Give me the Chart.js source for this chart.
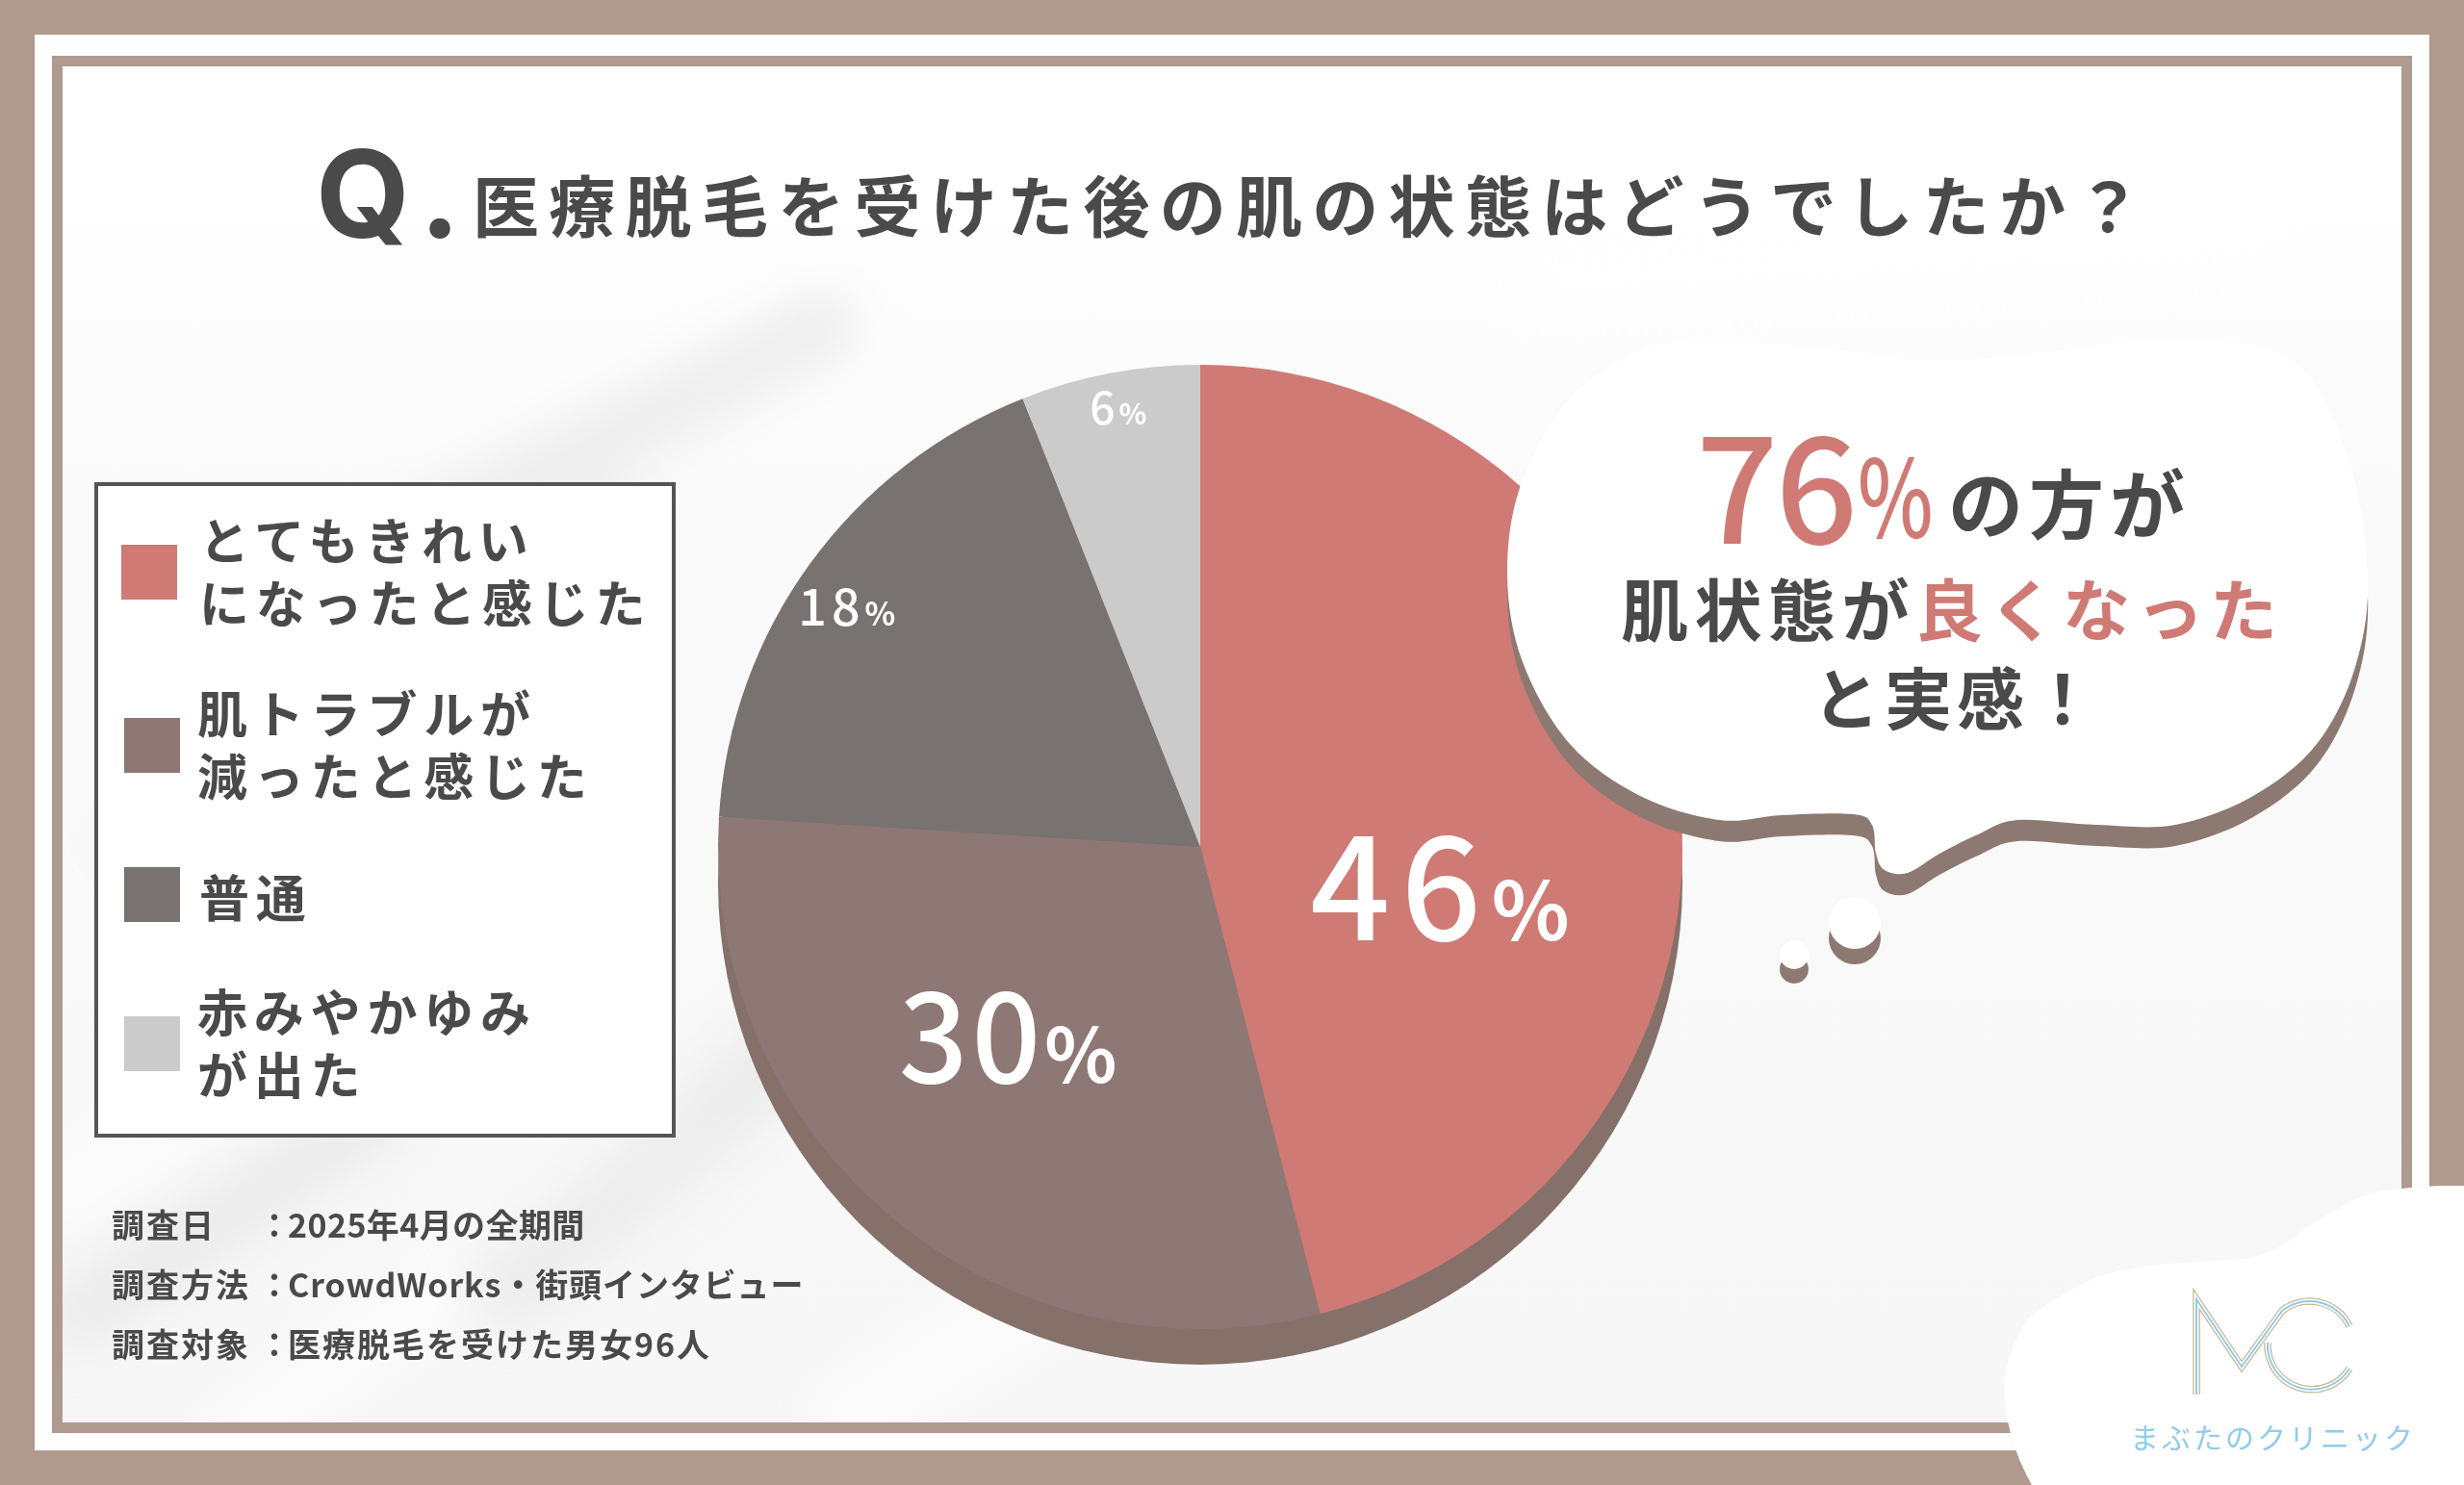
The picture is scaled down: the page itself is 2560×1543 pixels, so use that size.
<!DOCTYPE html>
<html lang="ja">
<head>
<meta charset="utf-8">
<title>医療脱毛を受けた後の肌の状態</title>
<script src="https://cdn.jsdelivr.net/npm/chart.js@4"></script>
<style>
  html, body { margin: 0; padding: 0; }
  body { position: relative; width: 2560px; height: 1543px; overflow: hidden; background: #b09a8f;
         font-family: "Noto Sans CJK JP", "Noto Sans", sans-serif; color: #4a4a4a; }
  body * { position: absolute; }
  #paper { left: 36px; top: 36px; width: 2488px; height: 1471px; background: #fdfdfd; }
  #inner { left: 54px; top: 58px; width: 2430px; height: 1409px; border: 11px solid #b09a8f; overflow: hidden;
           background: linear-gradient(to bottom, #fff 0, #fff 130px, #fafafa 420px, #f7f7f7 100%); }
  .smudge { filter: blur(24px); opacity: .7; }
  canvas { left: 0; top: 0; }
  svg { left: 0; top: 0; }
  .t { white-space: nowrap; line-height: 1; }
  #q { left: 328px; top: 138px; font-family: Inter, sans-serif; font-size: 126px; font-weight: 700; }
  #dot { left: 436px; top: 138px; font-family: Inter, sans-serif; font-size: 126px; font-weight: 700; }
  #title { left: 491px; top: 177px; font-size: 69px; font-weight: 700; letter-spacing: 10.3px; }
  #legend { left: 98px; top: 501px; width: 596px; height: 673px; border: 4px solid #555; background: #fff; }
  .swatch { width: 58px; height: 57px; }
  .label { font-size: 52px; font-weight: 700; letter-spacing: 6.8px; line-height: 65px; white-space: nowrap; }
  .foot { font-size: 34px; font-weight: 700; white-space: nowrap; line-height: 1; }
  #c1 { color: #cf7a74; left: 1762px; top: 425px; font-size: 150px; font-weight: 500; letter-spacing: -3px; }
  #c1 small { position: absolute; left: 168px; top: 30px; font-size: 110px; font-weight: 500;
              transform: scaleX(.76); transform-origin: left center; letter-spacing: 0; }
  #c2 { left: 2024px; top: 481px; font-size: 78px; font-weight: 700; letter-spacing: 6px; }
  #c3 { left: 1684px; top: 596px; font-size: 70px; font-weight: 700; letter-spacing: 6.5px; }
  #c3 span { position: static; color: #cf7a74; }
  #c4 { left: 1883px; top: 688px; font-size: 70px; font-weight: 700; letter-spacing: 5px; }
  #brand { left: 2213px; top: 1477px; font-size: 30px; letter-spacing: 3px; color: #8fcdea; }
</style>
</head>
<body>
<div id="paper"></div>
<div id="inner"></div>
<canvas id="pie" width="2560" height="1543"></canvas>
<svg id="shapes" width="2560" height="1543" xmlns="http://www.w3.org/2000/svg"></svg>

<div class="t" id="q">Q</div>
<div class="t" id="dot">.</div>
<div class="t" id="title">医療脱毛を受けた後の肌の状態はどうでしたか？</div>

<div id="legend"></div>

<div class="t" id="c1">76<small>%</small></div>
<div class="t" id="c2">の方が</div>
<div class="t" id="c3">肌状態が<span>良くなった</span></div>
<div class="t" id="c4">と実感！</div>

<div class="t" id="brand">まぶたのクリニック</div>

<script>
'use strict';

const categories = [
  ['とてもきれい', 'になったと感じた'],
  ['肌トラブルが', '減ったと感じた'],
  ['普通'],
  ['赤みやかゆみ', 'が出た']
];
const shareValues = [46, 30, 18, 6];
const sliceColors = ['#cf7a74', '#8d7875', '#787270', '#cbcbcb'];

const surveyLabels = ['調査日', '調査方法', '調査対象'];
const surveyValues = ['2025年4月の全期間', 'CrowdWorks・街頭インタビュー', '医療脱毛を受けた男女96人'];

// label anchor (fraction of radius from centre), number size, % size, spacing
const labelStyles = [
  { fx:  .508, fy:  .088, num: 146, pct: 84, gap: 11 },
  { fx: -.395, fy:  .398, num: 126, pct: 78, gap: 4 },
  { fx: -.728, fy: -.496, num: 52,  pct: 33, gap: 5 },
  { fx: -.166, fy: -.910, num: 46,  pct: 30, gap: 4 }
];

// pie edge thickness drawn under the slices
const pieDepth = {
  id: 'pieDepth',
  beforeDatasetsDraw(chart) {
    const arc = chart.getDatasetMeta(0).data[0];
    const { ctx } = chart;
    ctx.save();
    ctx.fillStyle = '#85716a';
    ctx.beginPath();
    ctx.arc(arc.x, arc.y + 37, arc.outerRadius, 0, Math.PI * 2);
    ctx.fill();
    ctx.restore();
  }
};

const pieLabels = {
  id: 'pieLabels',
  afterDatasetsDraw(chart) {
    const { ctx } = chart;
    const family = '"Noto Sans CJK JP", sans-serif';
    chart.getDatasetMeta(0).data.forEach((arc, i) => {
      const s = labelStyles[i];
      const num = String(shareValues[i]);
      ctx.save();
      ctx.fillStyle = '#fff';
      ctx.textBaseline = 'alphabetic';
      ctx.textAlign = 'left';
      ctx.letterSpacing = s.gap + 'px';
      ctx.font = `500 ${s.num}px ${family}`;
      const numW = ctx.measureText(num).width;
      ctx.font = `700 ${s.pct}px ${family}`;
      const pctW = ctx.measureText('%').width;
      const x = arc.x + s.fx * arc.outerRadius - (numW + pctW) / 2;
      const y = arc.y + s.fy * arc.outerRadius + s.num * 0.365;
      ctx.font = `500 ${s.num}px ${family}`;
      ctx.fillText(num, x, y);
      ctx.font = `700 ${s.pct}px ${family}`;
      ctx.fillText('%', x + numW, y);
      ctx.restore();
    });
  }
};

new Chart(document.getElementById('pie'), {
  type: 'pie',
  data: {
    labels: categories,
    datasets: [{ data: shareValues, backgroundColor: sliceColors, borderWidth: 0 }]
  },
  options: {
    responsive: false,
    animation: false,
    devicePixelRatio: 1,
    layout: { padding: { left: 746, right: 812, top: 379, bottom: 162 } },
    plugins: { legend: { display: false }, tooltip: { enabled: false } }
  },
  plugins: [pieDepth, pieLabels]
});

// legend box
const legend = document.getElementById('legend');
const swatchPos = [[24, 61], [27, 241], [27, 396], [27, 551]];
const textPos = [[105, 22], [103, 202], [105, 393], [103, 512]];
categories.forEach((lines, i) => {
  const sw = document.createElement('div');
  sw.className = 'swatch';
  sw.style.cssText = `left:${swatchPos[i][0]}px;top:${swatchPos[i][1]}px;background:${sliceColors[i]}`;
  legend.appendChild(sw);
  const tx = document.createElement('div');
  tx.className = 'label';
  tx.style.cssText = `left:${textPos[i][0]}px;top:${textPos[i][1]}px`;
  tx.innerHTML = lines.join('<br>');
  legend.appendChild(tx);
});

// survey notes
const valueSpacing = [0.4, 0.9, 2];
surveyLabels.forEach((label, i) => {
  const y = 1255 + i * 62;
  [[116, label, 2], [268, '：', 0], [299, surveyValues[i], valueSpacing[i]]].forEach(([x, text, sp]) => {
    const el = document.createElement('div');
    el.className = 'foot';
    el.style.cssText = `left:${x}px;top:${y}px;letter-spacing:${sp}px`;
    el.textContent = text;
    document.body.appendChild(el);
  });
});

// speech bubble, corner blob and logo
function smooth(pts) {
  let d = `M${pts[0][0]} ${pts[0][1]}`;
  const n = pts.length;
  for (let i = 0; i < n; i++) {
    const p0 = pts[(i - 1 + n) % n], p1 = pts[i], p2 = pts[(i + 1) % n], p3 = pts[(i + 2) % n];
    d += `C${p1[0] + (p2[0] - p0[0]) / 6} ${p1[1] + (p2[1] - p0[1]) / 6} ` +
         `${p2[0] - (p3[0] - p1[0]) / 6} ${p2[1] - (p3[1] - p1[1]) / 6} ${p2[0]} ${p2[1]}`;
  }
  return d + 'Z';
}

const bubble = smooth([
  [1566, 598], [1580, 504], [1631, 414], [1704, 365], [1786, 355], [1892, 362], [2015, 375],
  [2137, 365], [2260, 352], [2382, 375], [2439, 474], [2460, 598], [2447, 693], [2407, 773],
  [2341, 827], [2260, 857], [2178, 857], [2096, 852], [2055, 867], [2015, 887], [1982, 907],
  [1958, 904], [1949, 887], [1945, 857], [1925, 846], [1851, 847], [1786, 852], [1704, 827],
  [1631, 773], [1582, 688]
]);

document.getElementById('shapes').innerHTML = `
  <path d="${bubble}" transform="translate(0 22)" fill="#8c7a72"/>
  <path d="${bubble}" fill="#fff"/>
  <circle cx="1927" cy="975" r="27" fill="#8c7a72"/>
  <circle cx="1927" cy="959" r="27" fill="#fff"/>
  <circle cx="1864" cy="1007" r="15" fill="#8c7a72"/>
  <circle cx="1864" cy="992" r="15" fill="#fff"/>
  <path d="M2560 1232L2536 1232C2510 1233 2490 1235 2464 1240C2435 1250 2415 1265 2393 1277C2375 1295 2355 1303 2339 1307
           C2310 1310 2280 1311 2250 1313C2225 1316 2200 1320 2179 1327C2150 1340 2125 1355 2107 1370
           C2090 1395 2083 1420 2082 1447C2084 1480 2095 1515 2111 1543L2560 1543Z" fill="#fff"/>
  <g fill="none" stroke-linejoin="miter">
    ${[['#c8b78f', 7.5], ['#fff', 5], ['#8fcdea', 2]].map(([c, w]) => `
      <path d="M2282 1449V1350L2329 1420L2371 1362A46 46 0 0 1 2441 1378" stroke="${c}" stroke-width="${w}"/>
      <path d="M2356 1395A46 46 0 0 0 2441 1422" stroke="${c}" stroke-width="${w}"/>`).join('')}
  </g>`;

// faint diagonal streaks behind the chart
const inner = document.getElementById('inner');
[
  [290, 350, 560, 70, -28, '#e8e8e8'],
  [140, 520, 480, 60, -32, '#ececec'],
  [20, 660, 500, 70, -30, '#f0f0f0'],
  [-60, 1000, 560, 50, -34, '#ffffff'],
  [80, 1240, 640, 50, -36, '#ffffff'],
  [380, 1090, 480, 90, -40, '#e8e8e8'],
  [-40, 1160, 420, 70, -34, '#e6e6e6'],
  [760, 1280, 420, 60, -32, '#ffffff'],
  [1500, 160, 800, 80, -4, '#ffffff']
].forEach(([x, y, w, h, rot, color]) => {
  const el = document.createElement('div');
  el.className = 'smudge';
  el.style.cssText = `left:${x}px;top:${y}px;width:${w}px;height:${h}px;transform:rotate(${rot}deg);background:${color}`;
  inner.appendChild(el);
});
</script>
</body>
</html>
